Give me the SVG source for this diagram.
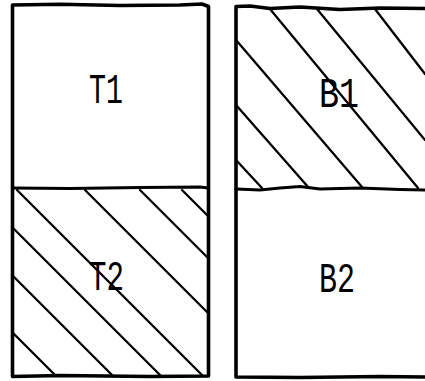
<svg xmlns="http://www.w3.org/2000/svg" width="425" height="381" viewBox="0 0 425 381">
<style>
.bd{fill:none;stroke:#000;stroke-width:3.6;stroke-linejoin:round;stroke-linecap:round}
.dv{fill:none;stroke:#000;stroke-width:3.2;stroke-linecap:round}
.ht{fill:none;stroke:#000;stroke-width:2.3;stroke-linecap:round}
.lb{font-family:"Liberation Mono","DejaVu Sans Mono",monospace;font-size:42px;fill:#000}
</style>
<rect width="425" height="381" fill="#fff"/>
<g id="left-column">
<path class="bd" d="M12.5,5 L60,4.3 L120,5.5 L180,5 L202,4 L208.5,6.5 L208.5,376 L150,376.5 L60,375.5 L12.5,376.5 Z"/>
</g>
<g id="right-column">
<path class="bd" d="M432,8.5 L380,8 L340,9.5 L300,7 L270,8.5 L250,6 L236,6.5 L236,377 L300,377.5 L380,376.5 L432,377"/>
</g>
<g id="T1">
<text class="lb" x="89" y="103" textLength="34" lengthAdjust="spacingAndGlyphs">T1</text>
</g>
<g id="T2">
<g class="ht">
<path d="M182,190 L208,216"/>
<path d="M140,190 L208,258"/>
<path d="M85,190 L208,313"/>
<path d="M17,190 L203,376"/>
<path d="M12,227 L161,376"/>
<path d="M12,275 L113,376"/>
<path d="M12,332 L56,376"/>
</g>
<text class="lb" x="89" y="290" textLength="35" lengthAdjust="spacingAndGlyphs">T2</text>
</g>
<g id="B1">
<g class="ht">
<path d="M236,40 L362,187"/>
<path d="M236,105 L309,188"/>
<path d="M236,160 L262,188"/>
<path d="M270,9 L418,188"/>
<path d="M317,9 L425,140"/>
<path d="M375,9 L425,74"/>
</g>
<text class="lb" x="319" y="107" textLength="40" lengthAdjust="spacingAndGlyphs">B1</text>
</g>
<g id="B2">
<text class="lb" x="319" y="292" textLength="36" lengthAdjust="spacingAndGlyphs">B2</text>
</g>
<g id="dividers">
<path class="dv" d="M12.5,188 L70,188.5 L140,187.5 L200,187 L208.5,188"/>
<path class="dv" d="M236,189 L260,190 L280,188 L300,186.5 L320,189 L360,188 L400,189.5 L425,190"/>
</g>
</svg>
